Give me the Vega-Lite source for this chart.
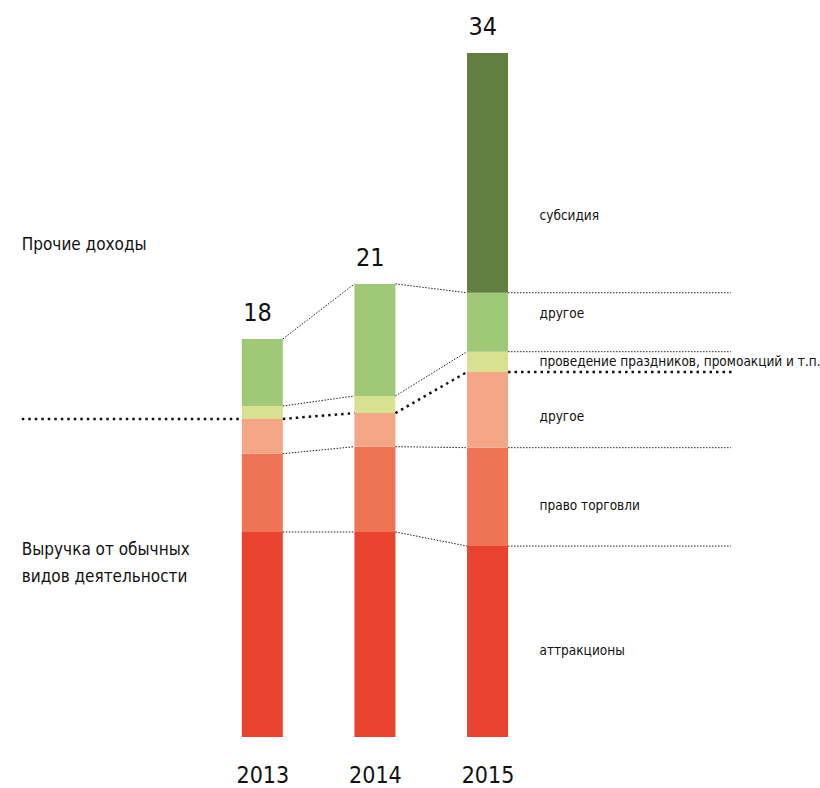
{
  "$schema": "https://vega.github.io/schema/vega-lite/v6.json",
  "width": 820,
  "height": 737,
  "padding": 0,
  "background": "white",
  "config": {"view": {"stroke": null}, "font": "DejaVu Sans Condensed, Roboto, sans-serif"},
  "datasets": {
    "segments": [
      {"year": 2013, "cat": "аттракционы", "start": 0, "end": 10.19},
      {"year": 2013, "cat": "право торговли", "start": 10.19, "end": 14.08},
      {"year": 2013, "cat": "другое (выручка)", "start": 14.08, "end": 15.81},
      {"year": 2013, "cat": "проведение праздников", "start": 15.81, "end": 16.45},
      {"year": 2013, "cat": "другое (прочие)", "start": 16.45, "end": 19.78},
      {"year": 2014, "cat": "аттракционы", "start": 0, "end": 10.19},
      {"year": 2014, "cat": "право торговли", "start": 10.19, "end": 14.43},
      {"year": 2014, "cat": "другое (выручка)", "start": 14.43, "end": 16.10},
      {"year": 2014, "cat": "проведение праздников", "start": 16.10, "end": 16.95},
      {"year": 2014, "cat": "другое (прочие)", "start": 16.95, "end": 22.52},
      {"year": 2015, "cat": "аттракционы", "start": 0, "end": 9.49},
      {"year": 2015, "cat": "право торговли", "start": 9.49, "end": 14.38},
      {"year": 2015, "cat": "другое (выручка)", "start": 14.38, "end": 18.14},
      {"year": 2015, "cat": "проведение праздников", "start": 18.14, "end": 19.15},
      {"year": 2015, "cat": "другое (прочие)", "start": 19.15, "end": 22.08},
      {"year": 2015, "cat": "субсидия", "start": 22.08, "end": 34.0}
    ],
    "totals": [
      {"year": 2013, "top": 19.78, "label": "18"},
      {"year": 2014, "top": 22.52, "label": "21"},
      {"year": 2015, "top": 34.0, "label": "34"}
    ],
    "links": [
      {"kind": "link", "thick": false, "from": 2013, "to": 2014, "y1": 19.78, "y2": 22.52},
      {"kind": "link", "thick": false, "from": 2013, "to": 2014, "y1": 16.45, "y2": 16.95},
      {"kind": "link", "thick": false, "from": 2013, "to": 2014, "y1": 14.08, "y2": 14.43},
      {"kind": "link", "thick": false, "from": 2013, "to": 2014, "y1": 10.19, "y2": 10.19},
      {"kind": "link", "thick": false, "from": 2014, "to": 2015, "y1": 22.52, "y2": 22.08},
      {"kind": "link", "thick": false, "from": 2014, "to": 2015, "y1": 16.95, "y2": 19.15},
      {"kind": "link", "thick": false, "from": 2014, "to": 2015, "y1": 14.43, "y2": 14.38},
      {"kind": "link", "thick": false, "from": 2014, "to": 2015, "y1": 10.19, "y2": 9.49},
      {"kind": "right", "thick": false, "from": 2015, "to": 2017.16, "y1": 22.08, "y2": 22.08},
      {"kind": "right", "thick": false, "from": 2015, "to": 2017.16, "y1": 19.15, "y2": 19.15},
      {"kind": "right", "thick": false, "from": 2015, "to": 2017.16, "y1": 14.38, "y2": 14.38},
      {"kind": "right", "thick": false, "from": 2015, "to": 2017.16, "y1": 9.49, "y2": 9.49},
      {"kind": "left", "thick": true, "from": 2010.864, "to": 2013, "y1": 15.81, "y2": 15.81},
      {"kind": "link", "thick": true, "from": 2013, "to": 2014, "y1": 15.81, "y2": 16.10},
      {"kind": "link", "thick": true, "from": 2014, "to": 2015, "y1": 16.10, "y2": 18.14},
      {"kind": "right", "thick": true, "from": 2015, "to": 2017.2, "y1": 18.14, "y2": 18.14}
    ],
    "seglabels": [
      {"year": 2015, "y": 25.90, "label": "субсидия"},
      {"year": 2015, "y": 21.03, "label": "другое"},
      {"year": 2015, "y": 18.64, "label": "проведение праздников, промоакций и т.п."},
      {"year": 2015, "y": 15.91, "label": "другое"},
      {"year": 2015, "y": 11.48, "label": "право торговли"},
      {"year": 2015, "y": 4.27, "label": "аттракционы"}
    ],
    "grouplabels": [
      {"x": 2010.864, "y": 24.46, "label": "Прочие доходы"},
      {"x": 2010.864, "y": 9.30, "label": "Выручка от обычных"},
      {"x": 2010.864, "y": 7.95, "label": "видов деятельности"}
    ]
  },
  "layer": [
    {
      "data": {"name": "segments"},
      "mark": {"type": "bar", "width": 41},
      "encoding": {
        "x": {"field": "year", "type": "quantitative", "scale": {"domain": [2010.715, 2017.908], "nice": false, "zero": false},
              "axis": {"values": [2013, 2014, 2015], "format": "d", "title": null, "domain": false, "ticks": false, "grid": false, "labelFontSize": 23, "labelPadding": 27, "labelColor": "#111", "labelFont": "DejaVu Sans Condensed, Roboto, sans-serif"}},
        "y": {"field": "start", "type": "quantitative", "scale": {"domain": [0, 36.63], "nice": false}, "axis": null},
        "y2": {"field": "end"},
        "color": {"field": "cat", "type": "nominal", "legend": null,
                  "scale": {"domain": ["аттракционы", "право торговли", "другое (выручка)", "проведение праздников", "другое (прочие)", "субсидия"],
                            "range": ["#E8432E", "#EE7455", "#F5A687", "#D7E18F", "#9FC977", "#627E41"]}}
      }
    },
    {
      "data": {"name": "links"},
      "transform": [{"filter": "datum.kind === 'link' && !datum.thick"}],
      "mark": {"type": "rule", "xOffset": 20.5, "x2Offset": -20.5, "color": "#222", "strokeWidth": 1, "strokeDash": [1.5, 1.5]},
      "encoding": {"x": {"field": "from", "type": "quantitative"}, "x2": {"field": "to"}, "y": {"field": "y1", "type": "quantitative"}, "y2": {"field": "y2"}}
    },
    {
      "data": {"name": "links"},
      "transform": [{"filter": "datum.kind === 'right' && !datum.thick"}],
      "mark": {"type": "rule", "xOffset": 20.5, "color": "#222", "strokeWidth": 1, "strokeDash": [1.5, 1.5]},
      "encoding": {"x": {"field": "from", "type": "quantitative"}, "x2": {"field": "to"}, "y": {"field": "y1", "type": "quantitative"}, "y2": {"field": "y2"}}
    },
    {
      "data": {"name": "links"},
      "transform": [{"filter": "datum.kind === 'link' && datum.thick"}],
      "mark": {"type": "rule", "xOffset": 20.5, "x2Offset": -20.5, "color": "#111", "strokeWidth": 2.5, "strokeDash": [2.5, 4]},
      "encoding": {"x": {"field": "from", "type": "quantitative"}, "x2": {"field": "to"}, "y": {"field": "y1", "type": "quantitative"}, "y2": {"field": "y2"}}
    },
    {
      "data": {"name": "links"},
      "transform": [{"filter": "datum.kind === 'right' && datum.thick"}],
      "mark": {"type": "rule", "xOffset": 20.5, "color": "#111", "strokeWidth": 2.5, "strokeDash": [2.5, 4]},
      "encoding": {"x": {"field": "from", "type": "quantitative"}, "x2": {"field": "to"}, "y": {"field": "y1", "type": "quantitative"}, "y2": {"field": "y2"}}
    },
    {
      "data": {"name": "links"},
      "transform": [{"filter": "datum.kind === 'left'"}],
      "mark": {"type": "rule", "x2Offset": -20.5, "color": "#111", "strokeWidth": 2.5, "strokeDash": [2.5, 4]},
      "encoding": {"x": {"field": "from", "type": "quantitative"}, "x2": {"field": "to"}, "y": {"field": "y1", "type": "quantitative"}, "y2": {"field": "y2"}}
    },
    {
      "data": {"name": "totals"},
      "mark": {"type": "text", "align": "left", "baseline": "alphabetic", "dx": -19, "dy": -18, "fontSize": 25, "color": "#111"},
      "encoding": {"x": {"field": "year", "type": "quantitative"}, "y": {"field": "top", "type": "quantitative"}, "text": {"field": "label"}}
    },
    {
      "data": {"name": "seglabels"},
      "mark": {"type": "text", "align": "left", "baseline": "middle", "dx": 52, "fontSize": 13.5, "color": "#111"},
      "encoding": {"x": {"field": "year", "type": "quantitative"}, "y": {"field": "y", "type": "quantitative"}, "text": {"field": "label"}}
    },
    {
      "data": {"name": "grouplabels"},
      "mark": {"type": "text", "align": "left", "baseline": "middle", "fontSize": 17, "color": "#111"},
      "encoding": {"x": {"field": "x", "type": "quantitative"}, "y": {"field": "y", "type": "quantitative"}, "text": {"field": "label"}}
    }
  ]
}
